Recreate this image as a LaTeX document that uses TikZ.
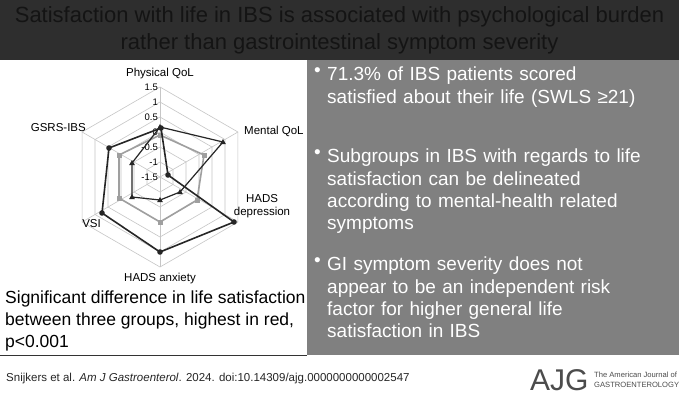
\documentclass[tikz,border=0pt]{standalone}
\usepackage{fontspec}
\setmainfont{Liberation Sans}
\usetikzlibrary{calc}
\begin{document}
\begin{tikzpicture}[x=1pt,y=-1pt,
  grid/.style={draw=gray!45,line width=0.6pt},
  serA/.style={draw=black!85,line width=1.6pt},
  serB/.style={draw=black!85,line width=1.2pt},
  serC/.style={draw=gray!75,line width=1.6pt},
  ticklbl/.style={font=\fontsize{9.5}{10}\selectfont,anchor=east,inner sep=1pt},
  axlbl/.style={font=\fontsize{11.5}{13}\selectfont,inner sep=0pt,align=center},
  bullet/.style={font=\fontsize{19}{22.3}\selectfont,text=white,anchor=north west,inner sep=0pt,align=left,text width=345pt},
  bdot/.style={font=\fontsize{19}{22.3}\selectfont,text=white,anchor=north west,inner sep=0pt}]
\useasboundingbox (0,0) rectangle (679,400);
\fill[white] (0,0) rectangle (679,400);
\fill[black!82] (0,0) rectangle (679,60);
\node[font=\fontsize{22}{27}\selectfont,text=black!92,align=center] (title) at (339.5,30)
  {Satisfaction with life in IBS is associated with psychological burden\\rather than gastrointestinal symptom severity};
\fill[black!50] (307,60) rectangle (679,355);
\draw[black!80,line width=1pt] (0,355) -- (307,355);
% radar
\coordinate (C) at (160,177);
\foreach \r in {15,30,...,90}{
  \draw[grid] ($(C)+(90:\r)$) -- ($(C)+(30:\r)$) -- ($(C)+(-30:\r)$) -- ($(C)+(-90:\r)$) -- ($(C)+(-150:\r)$) -- ($(C)+(150:\r)$) -- cycle;}
\foreach \a in {90,30,-30,-90,-150,150} \draw[grid] (C) -- ($(C)+(\a:90)$);
\foreach \v/\r in {1.5/90,1/75,0.5/60,0/45,-0.5/30,-1/15,-1.5/0}
  \node[ticklbl] at ($(C)+(0,-\r)+(-1,0)$) {\v};
% series
\path (161,128) coordinate (aP) (168,175) coordinate (aM) (234,222) coordinate (aD)
      (160,252) coordinate (aA) (102,213) coordinate (aV) (109,148) coordinate (aG);
\path (160,127) coordinate (bP) (223,142) coordinate (bM) (180,192) coordinate (bD)
      (160,200) coordinate (bA) (132,197) coordinate (bV) (132,163) coordinate (bG);
\path (160,135) coordinate (cP) (204,155) coordinate (cM) (197,200) coordinate (cD)
      (160,222) coordinate (cA) (119,198) coordinate (cV) (119,155) coordinate (cG);
\draw[serC] (cP)--(cM)--(cD)--(cA)--(cV)--(cG)--cycle;
\foreach \p in {cP,cM,cD,cA,cV,cG} \fill[gray!75] ($(\p)+(-2.5,-2.5)$) rectangle ($(\p)+(2.5,2.5)$);
\draw[serB] (bP)--(bM)--(bD)--(bA)--(bV)--(bG)--cycle;
\foreach \p in {bP,bM,bD,bA,bV,bG} \fill[black!85] ($(\p)+(0,-3)$) -- ($(\p)+(2.8,2)$) -- ($(\p)+(-2.8,2)$) -- cycle;
\draw[serA] (aP)--(aM)--(aD)--(aA)--(aV)--(aG)--cycle;
\foreach \p in {aP,aM,aD,aA,aV,aG} \fill[black!85] (\p) circle (2.8);
\node[axlbl] (lP) at (160,74) {Physical QoL};
\node[axlbl,anchor=west] (lM) at (244,131) {Mental QoL};
\node[axlbl] (lD) at (262,206) {HADS\\depression};
\node[axlbl] (lA) at (160,279) {HADS anxiety};
\node[axlbl,anchor=east] (lV) at (101,224) {VSI};
\node[axlbl,anchor=east] (lG) at (86,128) {GSRS-IBS};
\node[font=\fontsize{17.5}{22}\selectfont,anchor=north west,inner sep=0pt,align=left] (sig) at (5,291)
  {Significant difference in life satisfaction\\between three groups, highest in red,\\p<0.001};
% bullets
\node[bdot] (d1) at (314,67) {•};
\node[bullet] (b1) at (327,67) {71.3\% of IBS patients scored\\satisfied about their life (SWLS ≥21)};
\node[bdot] (d2) at (314,149) {•};
\node[bullet] (b2) at (327,149) {Subgroups in IBS with regards to life\\satisfaction can be delineated\\according to mental-health related\\symptoms};
\node[bdot] (d3) at (314,257) {•};
\node[bullet] (b3) at (327,257) {GI symptom severity does not\\appear to be an independent risk\\factor for higher general life\\satisfaction in IBS};
% footer
\node[font=\fontsize{11.5}{12}\selectfont,anchor=west,inner sep=0pt,text=black!85] (cite) at (6,379)
  {Snijkers et al. \textit{Am J Gastroenterol}. 2024. doi:10.14309/ajg.0000000000002547};
\node[font=\fontsize{30}{30}\selectfont,anchor=west,inner sep=0pt,text=black!70] (ajg) at (530,380) {AJG};
\node[font=\fontsize{7.6}{9.5}\selectfont,anchor=west,inner sep=0pt,align=left,text=black!70] (jn) at (594,380)
  {The American Journal of\\GASTROENTEROLOGY};
\end{tikzpicture}
\end{document}
